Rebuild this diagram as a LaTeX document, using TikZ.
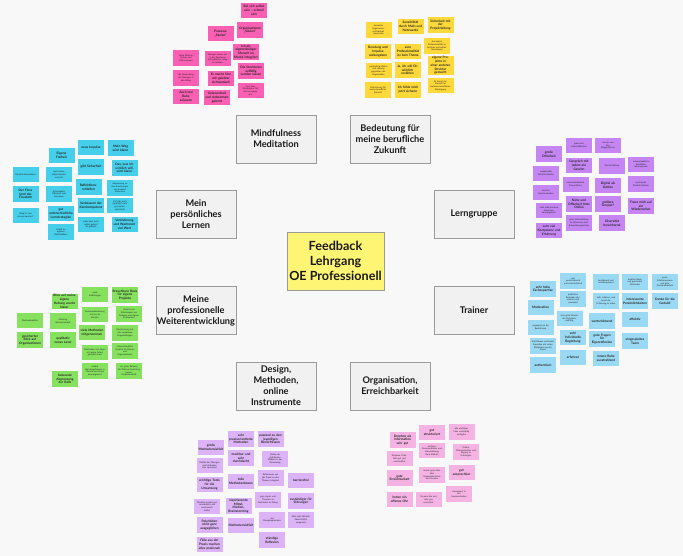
\documentclass[tikz,border=0pt]{standalone}
\usepackage{fontspec}
\setmainfont{Lato}
\usetikzlibrary{positioning}
\definecolor{boardbg}{HTML}{F8F8F8}
\definecolor{catfill}{HTML}{F1F1F1}
\definecolor{catline}{HTML}{9B9B9B}
\definecolor{hubyellow}{HTML}{FFF574}
\definecolor{notepink}{HTML}{F95FB3}
\definecolor{noteyellow}{HTML}{FFD83A}
\definecolor{notecyan}{HTML}{45CFEA}
\definecolor{notepurple}{HTML}{C586F4}
\definecolor{notegreen}{HTML}{86E25E}
\definecolor{noteblue}{HTML}{9AD9F3}
\definecolor{notelilac}{HTML}{DCB3F6}
\definecolor{noterose}{HTML}{F5B3E3}

\begin{document}
\begin{tikzpicture}[x=1pt,y=-1pt,
 cat/.style={draw=catline,fill=catfill,line width=.8pt,minimum width=80pt,
  minimum height=48pt,align=center,text=black!90,inner sep=1pt,
  font=\bfseries\fontsize{9.2}{11}\selectfont},
 hub/.style={cat,fill=hubyellow,minimum width=97pt,minimum height=58pt,
  font=\bfseries\fontsize{12.6}{15}\selectfont},
 note/.style={minimum width=26pt,minimum height=15.5pt,inner sep=.5pt,
  text width=25pt,align=center,text=black!85},
 bigtxt/.style={font=\bfseries\fontsize{3.2}{3.8}\selectfont},
 smalltxt/.style={font=\fontsize{2.2}{2.7}\selectfont},
 pinknote/.style={note,fill=notepink},
 yellownote/.style={note,fill=noteyellow},
 cyannote/.style={note,fill=notecyan},
 purplenote/.style={note,fill=notepurple},
 greennote/.style={note,fill=notegreen},
 bluenote/.style={note,fill=noteblue},
 lilacnote/.style={note,fill=notelilac},
 rosenote/.style={note,fill=noterose}]
\fill[boardbg] (0,0) rectangle (683,556);
\useasboundingbox (0,0) rectangle (683,556);

% centre and the eight topics
\node[hub] (hub) at (335.5,261) {Feedback\\Lehrgang\\OE Professionell};
\node[cat] (mind) at (276,139) {Mindfulness\\Meditation};
\node[cat] (zukunft) at (390,139) {Bedeutung für\\meine berufliche\\Zukunft};
\node[cat] (lernen) at (196,214) {Mein\\persönliches\\Lernen};
\node[cat] (gruppe) at (474,214) {Lerngruppe};
\node[cat] (weiter) at (196,310.5) {Meine\\professionelle\\Weiterentwicklung};
\node[cat] (trainer) at (474,310.5) {Trainer};
\node[cat] (design) at (276,386) {Design,\\Methoden,\\online\\Instrumente};
\node[cat] (orga) at (390,386) {Organisation,\\Erreichbarkeit};

% Mindfulness
\foreach \nx/\ny/\ns/\nt [count=\i] in {
 254/10.5/bigtxt/{Bei sich selbst\\sein -- schnell\\sein},
 220.5/33.5/bigtxt/{Prozesse\\„Säulen“},
 250/30/bigtxt/{Organisationen\\„Säulen“},
 186/58/smalltxt/{Neue Skills im\\Spüren und\\Wahrnehmen},
 186/78/smalltxt/{die Anwendung\\der Übungen in\\den Alltag},
 186/96.5/bigtxt/{Auch mal\\Ruhe\\zulassen},
 217.5/58.5/smalltxt/{Übungen haben mir\\in der Pandemie\\sehr geholfen, ruhig\\zu bleiben},
 221/78.5/bigtxt/{Es macht Sinn\\mit gelebter\\Achtsamkeit},
 217/97.5/bigtxt/{Gelassenheit\\und Ankommen\\gelernt},
 246/52/bigtxt/{Ich als\\eigenständiger\\Mensch im\\Modul integriert},
 251/71/bigtxt/{Die Strukturen\\auffällig\\werden lassen},
 250.5/90.5/smalltxt/{Gut, dass\\Mindfulness Teil\\des Lehrgangs\\war}}
 \node[pinknote,\ns] (mind\i) at (\nx,\ny) {\nt};

% Bedeutung fuer die Zukunft
\foreach \nx/\ny/\ns/\nt [count=\i] in {
 378.5/30/smalltxt/{bewusste\\Gegenwarts-\\achtsamkeit\\entwickeln},
 410.5/26.5/bigtxt/{Sensibilität\\durch Mails und\\Netzwerke},
 440.5/25/bigtxt/{Sicherheit mit\\der\\Projektleitung},
 378/51.5/bigtxt/{Beratung und\\Impulse\\weitergeben},
 408/51.5/bigtxt/{eure\\Professionalität\\ist kein Thema},
 437/46/smalltxt/{die eigene\\Professionalität zu\\festigen und weiter\\auszubauen},
 378.5/70.5/smalltxt/{persönliche Werte\\und Haltung\\gegenüber der\\Organisation},
 407.5/70/bigtxt/{Ja, ich will Dir\\wirklich\\erzählen},
 440.5/65.5/bigtxt/{eigene Projekte in\\einer anderen\\Struktur gemacht},
 378/90/smalltxt/{Orientierung für\\meine berufliche\\Zukunft},
 408/90/bigtxt/{Ich fühle mich\\jetzt sicherer},
 440.5/85.5/smalltxt/{Es bringt mir\\Klarheit im\\weiteren beruflichen\\Werdegang}}
 \node[yellownote,\ns] (zuk\i) at (\nx,\ny) {\nt};

% Mein persoenliches Lernen
\foreach \nx/\ny/\ns/\nt [count=\i] in {
 25.5/174.5/smalltxt/{Persönlichkeitsebene},
 25.5/194/bigtxt/{Der Fluss\\fand das\\Flussbett},
 25.5/215.5/smalltxt/{„Weg ist zum\\Lernen bereitet“},
 61.5/155.5/bigtxt/{Eigene\\Freiheit},
 59/174.5/smalltxt/{auch meine\\selber beraten\\und das},
 59/194/smalltxt/{Achtsamkeit,\\Offenheit und\\Vertrauen},
 61/213.5/bigtxt/{gut\\unterschiedliche\\Lernstrategien},
 61/232/smalltxt/{Arbeit an\\eigenen\\Rollenbildern},
 91/147.5/bigtxt/{neue Impulse},
 91/167/bigtxt/{gibt Sicherheit},
 88.5/187/bigtxt/{Reflektions-\\schleifen},
 91/205.5/bigtxt/{Verbessern der\\Kernkompetenz},
 91/224.5/smalltxt/{mehr über mich\\selbst gelernt\\als gedacht},
 120.5/148/bigtxt/{Mein Weg\\wird klarer},
 124.5/168/bigtxt/{Das, was ich\\wirklich will,\\wird klarer},
 120/188/smalltxt/{Abgrenzung zu\\den Erwartungen\\von anderen\\Menschen},
 120/205.5/smalltxt/{ich habe mich\\persönlich sehr\\gut weiter-\\entwickelt},
 124.5/224.5/bigtxt/{Veränderung\\und Wachstum\\viel Wert}}
 \node[cyannote,\ns] (lern\i) at (\nx,\ny) {\nt};

% Lerngruppe
\foreach \nx/\ny/\ns/\nt [count=\i] in {
 549/154/bigtxt/{große\\Offenheit},
 546/173.5/smalltxt/{respektvolle\\Persönlichkeiten},
 546/192.5/smalltxt/{ehrliche\\Kommunikation},
 549/210.5/smalltxt/{viele tolle, kreative\\Menschen\\kennengelernt},
 549/230.5/bigtxt/{sehr viel\\Kompetenz und\\Erfahrung},
 579/145.5/smalltxt/{jeder sehr\\selbstreflektiert},
 579/165.5/bigtxt/{Gespräch mit\\jedem ein\\Gewinn},
 575.5/184.5/smalltxt/{unterschiedlichste\\Perspektiven},
 579/204/bigtxt/{Nähe und\\Offenheit trotz\\Online},
 579/223/smalltxt/{gute Unterstützung\\im Wachstum und\\Entwicklungsprozess},
 608/145.5/smalltxt/{Lernen von\\den\\Weggefährten},
 612/166/smalltxt/{Wertschätzung},
 608/185.5/bigtxt/{Digital als\\Option},
 608/204/bigtxt/{größere\\Gruppe?},
 612/223/bigtxt/{Diversität\\bereichernd},
 641/164.5/smalltxt/{unterschiedliche\\berufliche\\Hintergründe},
 641/184/smalltxt/{spannende\\Persönlichkeiten},
 641/206/bigtxt/{Freue mich auf\\ein\\Wiedersehen}}
 \node[purplenote,\ns] (grp\i) at (\nx,\ny) {\nt};

% Meine professionelle Weiterentwicklung
\foreach \nx/\ny/\ns/\nt [count=\i] in {
 30/320.5/smalltxt/{Methodenkoffer},
 30/340/bigtxt/{gesicherter\\Blick auf\\Organisationen},
 64.5/301.5/bigtxt/{Blick auf meine\\eigene\\Haltung wurde\\klarer},
 63/321/smalltxt/{Stärkung\\Netzwerkarbeit},
 63/340/bigtxt/{qualitativ\\neues Level},
 65/379/bigtxt/{bewusste\\Abgrenzung\\der Rolle},
 95/294.5/smalltxt/{neue\\Erfahrungen},
 95/314.5/smalltxt/{Auseinandersetzung\\mit mir als\\Berater},
 92/332.5/bigtxt/{viele Methoden\\mitgenommen},
 95/352.5/smalltxt/{Methoden, mit denen\\ich meine Arbeit\\gestalten kann},
 95/371/smalltxt/{andere\\Beratungsformen in\\Theorie und Praxis\\kennengelernt},
 125/295/bigtxt/{Brauchbare Basis\\für eigene\\Projekte},
 129/314/smalltxt/{Gewinn aus\\Erfahrungen von\\Anderen und eigene\\Sichtweisen},
 125/333/smalltxt/{Bereicherung mit\\den komplexen\\Fragestellungen},
 125/351/smalltxt/{Unterschiedliche\\Ansätze für Berater\\und\\Organisationen},
 129/371/smalltxt/{ein guter Rahmen\\für Weiterentwicklung\\meiner\\Professionalität}}
 \node[greennote,\ns] (wei\i) at (\nx,\ny) {\nt};

% Trainer
\foreach \nx/\ny/\ns/\nt [count=\i] in {
 543/289/bigtxt/{sehr hohe\\Fachexpertise},
 540.5/307.5/bigtxt/{Moderation},
 540.5/327.5/smalltxt/{angepasst an die\\Bedürfnisse},
 543/346/smalltxt/{Viel Wissen und breite\\Expertise mit vielen\\Beispielen aus der\\Praxis},
 543/365/bigtxt/{authentisch},
 573/281/smalltxt/{sehr\\wertschätzend\\und unterstützend},
 573/299/smalltxt/{praktische\\Beispiele sehr\\relevant und\\spannend},
 569.5/318.5/smalltxt/{sehr guter Einsatz\\der Techniken,\\vielfältig},
 573/337.5/bigtxt/{sehr\\individuelle\\Begleitung},
 573/357.5/bigtxt/{erfahren},
 606/282/smalltxt/{bestärkend und\\hochkompetent},
 606/301/smalltxt/{sehr erfahren, und\\bereit die\\Erfahrung zu teilen},
 602/321/bigtxt/{wertschätzend},
 602/339/bigtxt/{gute Fragen\\für\\Eigenreflexion},
 606/358.5/bigtxt/{innere Ruhe\\ausstrahlend},
 635/282/smalltxt/{kreative Ideen\\und geschickte\\Methoden},
 635/301/bigtxt/{interessante\\Persönlichkeiten},
 635/319.5/bigtxt/{effektiv},
 635/341/bigtxt/{eingespieltes\\Team},
 665/282/smalltxt/{guter\\Erfahrungsraum\\und gute\\Zusammenarbeit},
 665/301/bigtxt/{Danke für die\\Geduld!}}
 \node[bluenote,\ns] (tr\i) at (\nx,\ny) {\nt};

% Design, Methoden, online Instrumente
\foreach \nx/\ny/\ns/\nt [count=\i] in {
 211/447.5/bigtxt/{große\\Methodenvielfalt},
 209.5/465.5/smalltxt/{Vielfalt der Übungen\\und Methoden\\sehr spannend},
 209.5/484.5/bigtxt/{wichtige Tools\\für die\\Umsetzung},
 207/506.5/smalltxt/{Modelle wurden gut\\verständlich und\\anschaulich\\erklärt},
 209.5/525/bigtxt/{Polaritäten\\nicht ganz\\ausgeglichen},
 209.5/544.5/bigtxt/{Fälle aus der\\Praxis machen\\alles praxisnah},
 241/439/bigtxt/{sehr\\praxisorientierte\\Methoden},
 241/458/bigtxt/{machbar und\\sehr\\durchdacht},
 241/481.5/bigtxt/{tolle\\Methodenboxen},
 238.5/506/bigtxt/{inspirierende\\Mittel,\\Medien,\\Brainstorming},
 241/525.5/bigtxt/{Methodenvielfalt},
 270.5/439/bigtxt/{passend zu den\\jeweiligen\\Bedürfnissen},
 275/459/smalltxt/{Online als\\praktisches\\Medium in der\\Umsetzung},
 270.5/478/smalltxt/{Reflexionen aus\\der Praxis zu den\\Themen integriert},
 268/500/smalltxt/{gute Inputs und\\Theorien zu\\Methoden im Alltag},
 272/520/smalltxt/{viel\\Übungsmaterialien},
 272/540/bigtxt/{ständige\\Reflexion},
 301/480.5/bigtxt/{barrierefrei},
 301/501/bigtxt/{zuständiger für\\Störungen},
 301/520/smalltxt/{Miro sehr hilfreich,\\übersichtlich\\umgesetzt}}
 \node[lilacnote,\ns] (des\i) at (\nx,\ny) {\nt};

% Organisation, Erreichbarkeit
\foreach \nx/\ny/\ns/\nt [count=\i] in {
 402.5/440/bigtxt/{Dropbox als\\Information\\sehr gut},
 399.5/458.5/smalltxt/{Dropbox, Präsi.,\\Miro gut und\\verständlich},
 399.5/478/bigtxt/{gute\\Erreichbarkeit},
 399.5/499.5/bigtxt/{immer ein\\offenes Ohr},
 432/432.5/bigtxt/{gut\\strukturiert},
 432/450.5/smalltxt/{einfache\\Kommunikation und\\Unterstützung,\\klare Abläufe},
 432/475/smalltxt/{immer gute Infos\\über\\Organisatorisches\\und Termine},
 428.5/499.5/smalltxt/{Termine klar und\\alles gut\\erreichbar},
 461.5/432/smalltxt/{alle wichtigen\\Infos rechtzeitig\\verfügbar},
 466/452/smalltxt/{Online,\\Dokumentation und\\Zugang zu\\Unterlagen},
 461.5/472.5/bigtxt/{gut\\ansprechbar},
 459/494/smalltxt/{transparent in\\der\\Kommunikation}}
 \node[rosenote,\ns] (org\i) at (\nx,\ny) {\nt};
\end{tikzpicture}
\end{document}
